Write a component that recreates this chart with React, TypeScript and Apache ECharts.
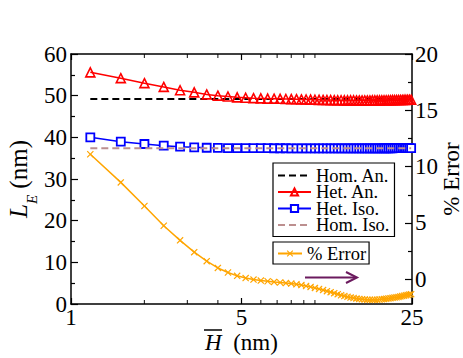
import React, { useEffect, useRef } from "react";
import * as echarts from "echarts";

const hValues = [1.2, 1.6, 2.0, 2.4, 2.8, 3.2, 3.6, 4.0, 4.4, 4.8, 5.2, 5.6, 6.0, 6.4, 6.8, 7.2, 7.6, 8.0, 8.4, 8.8, 9.2, 9.6, 10.0, 10.4, 10.8, 11.2, 11.6, 12.0, 12.4, 12.8, 13.2, 13.6, 14.0, 14.4, 14.8, 15.2, 15.6, 16.0, 16.4, 16.8, 17.2, 17.6, 18.0, 18.4, 18.8, 19.2, 19.6, 20.0, 20.4, 20.8, 21.2, 21.6, 22.0, 22.4, 22.8, 23.2, 23.6, 24.0, 24.4, 24.8];

const hetAn = [55.6, 54.2, 53.0, 52.1, 51.3, 50.8, 50.3, 50.0, 49.8, 49.6,
  49.5, 49.4, 49.35, 49.3, 49.28, 49.25, 49.2, 49.18, 49.15, 49.1,
  49.08, 49.05, 49.02, 49.0, 48.98, 48.96, 48.94, 48.92, 48.9, 48.9,
  48.88, 48.88, 48.87, 48.87, 48.86, 48.86, 48.86, 48.86, 48.86, 48.86,
  48.87, 48.87, 48.88, 48.88, 48.89, 48.9, 48.9, 48.91, 48.92, 48.93,
  48.94, 48.95, 48.96, 48.97, 48.98, 48.99, 49.0, 49.01, 49.02, 49.03];

const hetIso = [40.0, 38.95, 38.4, 38.0, 37.75, 37.6, 37.5, 37.45, 37.42, 37.4,
  37.4, 37.4, 37.39, 37.39, 37.38, 37.38, 37.38, 37.37, 37.37, 37.37,
  37.37, 37.36, 37.36, 37.36, 37.36, 37.36, 37.36, 37.36, 37.36, 37.36,
  37.36, 37.36, 37.36, 37.36, 37.36, 37.36, 37.36, 37.36, 37.36, 37.36,
  37.37, 37.37, 37.37, 37.37, 37.37, 37.38, 37.38, 37.38, 37.38, 37.38,
  37.39, 37.39, 37.39, 37.39, 37.4, 37.4, 37.4, 37.4, 37.4, 37.4];

const pctError = [11.1, 8.6, 6.5, 4.75, 3.45, 2.4, 1.6, 1.0, 0.6, 0.3,
  0.1, -0.03, -0.12, -0.18, -0.24, -0.29, -0.34, -0.39, -0.45, -0.52,
  -0.6, -0.68, -0.77, -0.87, -0.96, -1.06, -1.15, -1.24, -1.33, -1.42,
  -1.5, -1.56, -1.62, -1.67, -1.72, -1.75, -1.78, -1.8, -1.82, -1.83,
  -1.83, -1.83, -1.82, -1.8, -1.78, -1.76, -1.73, -1.71, -1.68, -1.65,
  -1.62, -1.6, -1.57, -1.53, -1.5, -1.46, -1.42, -1.39, -1.36, -1.33];

const homAnValue = 49.2;
const homIsoValue = 37.4;

const xMinorTicks = [2, 3, 4, 6, 7, 8, 9, 10];
const rightMajorTicks = [0, 5, 10, 15, 20];
const rightMinorTicks = [2.5, 7.5, 12.5, 17.5];

const FONT = "Liberation Serif";
const X_SYMBOL = "path://M0,1.2L1.2,0L5,3.8L8.8,0L10,1.2L6.2,5L10,8.8L8.8,10L5,6.2L1.2,10L0,8.8L3.8,5Z";

export default function App() {
  const ref = useRef<HTMLDivElement>(null);
  useEffect(() => {
    if (!ref.current) return;
    const chart = echarts.init(ref.current, null, { renderer: "svg" });
    const pair = (ys: number[]) => hValues.map((h, i) => [h, ys[i]]);
    const hFirst = hValues[0];
    const hLast = hValues[hValues.length - 1];
    const option: any = {
      animation: false,
      backgroundColor: "#fff",
      textStyle: { fontFamily: FONT },
      grid: { left: 71, right: 51, top: 54, bottom: 54, containLabel: false, outerBoundsMode: "none" },
      xAxis: [
        {
          type: "log", logBase: 5, min: 1, max: 25, position: "bottom",
          axisLine: { show: true, onZero: false, lineStyle: { color: "#000", width: 1.5 } },
          axisTick: { show: true, inside: true, length: 6, lineStyle: { color: "#000", width: 1.2 } },
          axisLabel: { show: true, color: "#000", fontSize: 23, fontFamily: FONT, margin: 2 },
          splitLine: { show: false }, minorTick: { show: false }, minorSplitLine: { show: false },
          name: "{i|H}  (nm)", nameLocation: "middle", nameGap: 27, nameMoveOverlap: false,
          nameTextStyle: { color: "#000", fontSize: 23, fontFamily: FONT, rich: { i: { fontStyle: "italic", fontSize: 23, fontFamily: FONT, color: "#000" } } },
        },
        {
          type: "log", logBase: 5, min: 1, max: 25, position: "top",
          axisLine: { show: true, onZero: false, lineStyle: { color: "#000", width: 1.5 } },
          axisTick: { show: true, inside: true, length: 6, lineStyle: { color: "#000", width: 1.2 } },
          axisLabel: { show: false }, splitLine: { show: false },
        },
      ],
      yAxis: [
        {
          type: "value", min: 0, max: 60, interval: 10, position: "left",
          axisLine: { show: true, onZero: false, lineStyle: { color: "#000", width: 1.5 } },
          axisTick: { show: true, inside: true, length: 7, lineStyle: { color: "#000", width: 1.2 } },
          minorTick: { show: true, splitNumber: 2, length: 4, lineStyle: { color: "#000", width: 1.2 } },
          axisLabel: { color: "#000", fontSize: 23, fontFamily: FONT, margin: 4 },
          splitLine: { show: false }, minorSplitLine: { show: false },
          name: "{i|L}{s|E} (nm)", nameLocation: "middle", nameGap: 32, nameRotate: 90, nameMoveOverlap: false,
          nameTextStyle: {
            color: "#000", fontSize: 25, fontFamily: FONT,
            rich: {
              i: { fontStyle: "italic", fontSize: 25, fontFamily: FONT, color: "#000" },
              s: { fontStyle: "italic", fontSize: 15, fontFamily: FONT, color: "#000", padding: [26, 0, 0, 0] },
            },
          },
        },
        {
          type: "value", min: -2.2, max: 20, position: "right",
          axisLine: { show: true, onZero: false, lineStyle: { color: "#000", width: 1.5 } },
          axisTick: { show: true, inside: true, length: 7, customValues: rightMajorTicks, lineStyle: { color: "#000", width: 1.2 } },
          axisLabel: { color: "#000", fontSize: 23, fontFamily: FONT, margin: 3, customValues: rightMajorTicks },
          splitLine: { show: false },
          name: "% Error", nameLocation: "middle", nameGap: 28, nameRotate: 90, nameMoveOverlap: false,
          nameTextStyle: { color: "#000", fontSize: 23, fontFamily: FONT },
        },
        {
          type: "value", min: -2.2, max: 20, position: "right",
          axisLine: { show: false, onZero: false },
          axisTick: { show: true, inside: true, length: 4, customValues: rightMinorTicks, lineStyle: { color: "#000", width: 1.2 } },
          axisLabel: { show: false }, splitLine: { show: false },
        },
      ],
      legend: [
        {
          orient: "vertical", left: 273, top: 163,
          data: [
            { name: "Hom. An.", itemStyle: { opacity: 0 } },
            "Het. An.",
            "Het. Iso.",
            { name: "Hom. Iso.", itemStyle: { opacity: 0 } },
          ],
          borderColor: "#000", borderWidth: 1.2, borderRadius: 0, padding: [3, 5, 2, 4],
          itemGap: -2.5, itemWidth: 33, itemHeight: 9,
          textStyle: { color: "#000", fontSize: 18.5, fontFamily: FONT, lineHeight: 16.5 },
        },
        {
          orient: "vertical", left: 273, top: 242,
          data: ["% Error"],
          borderColor: "#000", borderWidth: 1.2, borderRadius: 0, padding: [2, 3, 1, 4],
          itemGap: 0, itemWidth: 24, itemHeight: 8,
          textStyle: { color: "#000", fontSize: 18.5, fontFamily: FONT, lineHeight: 17 },
        },
      ],
      series: [
        {
          name: "Hom. An.", type: "line", xAxisIndex: 0, yAxisIndex: 0, showSymbol: false, symbol: "none",
          data: [[hFirst, homAnValue], [hLast, homAnValue]],
          lineStyle: { color: "#000", width: 2, type: [7, 4] }, itemStyle: { color: "#000" }, z: 2,
        },
        {
          name: "Het. An.", type: "line", xAxisIndex: 0, yAxisIndex: 0,
          data: pair(hetAn), symbol: "triangle", symbolSize: 9,
          lineStyle: { color: "#ff0000", width: 1.5 },
          itemStyle: { color: "rgba(255,255,255,0)", borderColor: "#ff0000", borderWidth: 1.6 }, z: 3,
        },
        {
          name: "Het. Iso.", type: "line", xAxisIndex: 0, yAxisIndex: 0,
          data: pair(hetIso), symbol: "rect", symbolSize: 8,
          lineStyle: { color: "#0000ff", width: 1.5 },
          itemStyle: { color: "#ffffff", borderColor: "#0000ff", borderWidth: 1.8 }, z: 3,
        },
        {
          name: "Hom. Iso.", type: "line", xAxisIndex: 0, yAxisIndex: 0, showSymbol: false, symbol: "none",
          data: [[hFirst, homIsoValue], [hLast, homIsoValue]],
          lineStyle: { color: "#bc8f8f", width: 2, type: [7, 4] }, itemStyle: { color: "#bc8f8f" }, z: 4,
        },
        {
          name: "% Error", type: "line", xAxisIndex: 0, yAxisIndex: 1,
          data: pair(pctError), symbol: X_SYMBOL, symbolSize: 7,
          lineStyle: { color: "#ffa500", width: 1.5 },
          itemStyle: { color: "#ffa500" }, z: 3,
        },
        {
          name: "xMinorBottom", type: "scatter", xAxisIndex: 0, yAxisIndex: 0, silent: true, clip: false,
          data: xMinorTicks.map((v) => [v, 0]), symbol: "rect", symbolSize: [1.2, 4], symbolOffset: [0, -2],
          itemStyle: { color: "#000" }, z: 5,
        },
        {
          name: "xMinorTop", type: "scatter", xAxisIndex: 0, yAxisIndex: 0, silent: true, clip: false,
          data: xMinorTicks.map((v) => [v, 60]), symbol: "rect", symbolSize: [1.2, 4], symbolOffset: [0, 2],
          itemStyle: { color: "#000" }, z: 5,
        },
      ],
      graphic: [
        { type: "line", shape: { x1: 204, y1: 330, x2: 222, y2: 330 }, style: { stroke: "#000", lineWidth: 1.5 } },
        { type: "line", shape: { x1: 305, y1: 277.5, x2: 356, y2: 277.5 }, style: { stroke: "#6b1a5e", lineWidth: 2 } },
        { type: "polyline", shape: { points: [[346, 272], [357, 277.5], [346, 283]] }, style: { stroke: "#6b1a5e", lineWidth: 2, fill: null } },
      ],
    };
    chart.setOption(option);
    return () => chart.dispose();
  }, []);
  return <div ref={ref} style={{ position: "fixed", left: 0, top: 0, width: 463, height: 358 }} />;
}
